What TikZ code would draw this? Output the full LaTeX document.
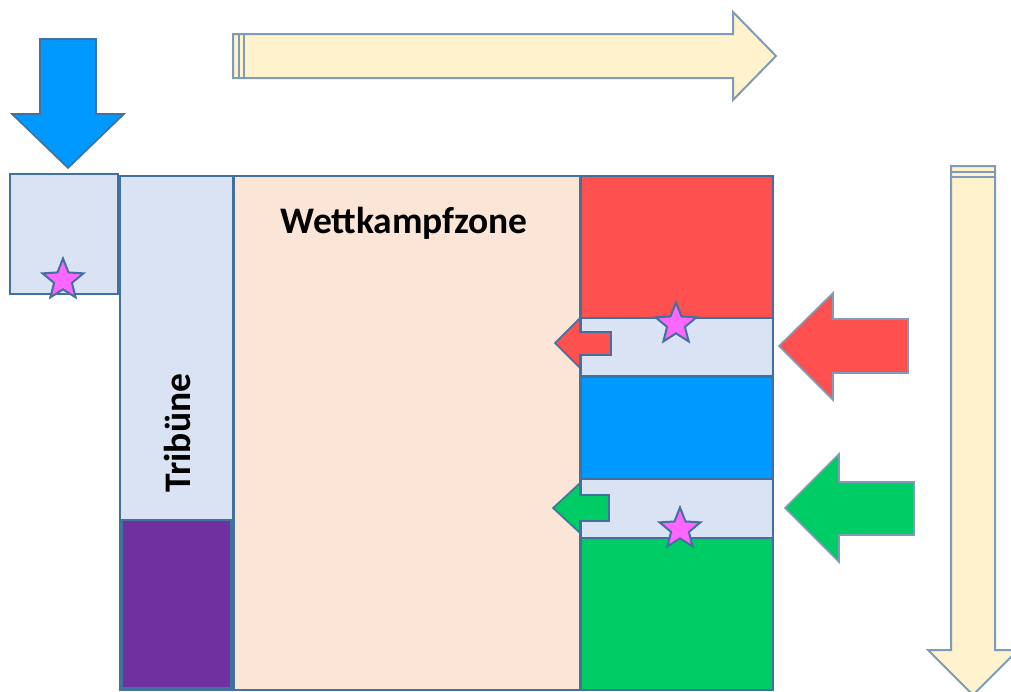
\documentclass[tikz,border=0pt]{standalone}
\usepackage{fontspec}
\setmainfont{Carlito}
\usetikzlibrary{shapes.geometric}
\definecolor{bord}{RGB}{65,113,156}
\definecolor{ybord}{RGB}{126,156,184}
\definecolor{lblue}{RGB}{218,227,243}
\definecolor{tan}{RGB}{251,229,214}
\definecolor{myred}{RGB}{255,80,80}
\definecolor{myblue}{RGB}{0,153,255}
\definecolor{mygreen}{RGB}{0,204,102}
\definecolor{mypurple}{RGB}{112,48,160}
\definecolor{myyellow}{RGB}{255,242,204}
\definecolor{mystar}{RGB}{255,102,255}
\tikzset{
  box/.style={draw=bord, line width=2pt, line join=miter},
  bigarrow/.style={draw=bord, line width=1.6pt, line join=miter},
  yarrow/.style={draw=ybord, fill=myyellow, line width=2pt, line join=miter},
  starmark/.style={star, star points=5, star point ratio=2.3, minimum size=43pt, inner sep=0pt, draw=bord, fill=mystar, line width=2pt},
  label/.style={font=\fontsize{37.5}{40}\selectfont\bfseries, text=black, inner sep=0pt}
}
\begin{document}
\begin{tikzpicture}[x=1pt,y=-1pt]
\useasboundingbox (0,0) rectangle (1011,691);
\clip (0,0) rectangle (1011,691);
% top yellow arrow
\draw[yarrow] (233,34) -- (733,34) -- (733,12) -- (776,56) -- (733,100) -- (733,78) -- (233,78) -- cycle;
\draw[draw=ybord, line width=1.5pt] (239,34) -- (239,78) (244,34) -- (244,78);
% right vertical yellow arrow
\draw[yarrow] (951,166) -- (995,166) -- (995,650) -- (1018,650) -- (973,695) -- (928,650) -- (951,650) -- cycle;
\draw[draw=ybord, line width=1.5pt] (951,172) -- (995,172) (951,177) -- (995,177);
% blue down arrow
\draw[bigarrow, fill=myblue] (40,39) -- (96,39) -- (96,114) -- (124,114) -- (68,168) -- (12,114) -- (40,114) -- cycle;
% small box
\draw[box, fill=lblue] (10,174) rectangle (118,294);
% tribune
\draw[box, fill=lblue] (120,176) rectangle (233,690);
\draw[box, fill=mypurple] (122,520) rectangle (231,688);
% competition zone
\draw[box, fill=tan] (234,176) rectangle (580,690);
% right column
\draw[box, fill=myred] (581,176) rectangle (773,318);
\draw[box, fill=lblue] (581,318) rectangle (773,376);
\draw[box, fill=myblue] (581,377) rectangle (773,479);
\draw[box, fill=lblue] (581,479) rectangle (773,538);
\draw[box, fill=mygreen] (581,538) rectangle (773,690);
% small arrows
\draw[bigarrow, fill=myred] (611,332) -- (580,332) -- (580,318) -- (555,343) -- (580,368) -- (580,355) -- (611,355) -- cycle;
\draw[bigarrow, fill=mygreen] (609,495) -- (580,495) -- (580,483) -- (553,508) -- (580,533) -- (580,521) -- (609,521) -- cycle;
% big side arrows
\draw[draw=ybord, line width=1.6pt, fill=myred] (908,319) -- (833,319) -- (833,293) -- (779,346) -- (833,400) -- (833,373) -- (908,373) -- cycle;
\draw[draw=ybord, line width=1.6pt, fill=mygreen] (914,482) -- (839,482) -- (839,454) -- (785,508) -- (839,562) -- (839,535) -- (914,535) -- cycle;
% stars
\node[starmark] (s1) at (63,280) {};
\node[starmark] (s2) at (676,324) {};
\node[starmark] (s3) at (680,529) {};
% labels
\node[label] (wk) at (404,223) {Wettkampfzone};
\node[label, rotate=90] (tr) at (177,433) {Tribüne};
\end{tikzpicture}
\end{document}
